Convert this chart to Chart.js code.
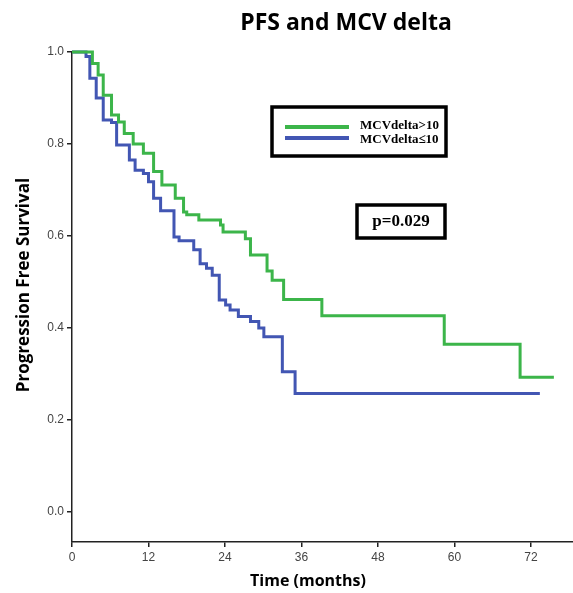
<!DOCTYPE html>
<html lang="en">
<head>
    <meta charset="UTF-8">
    <title>PFS and MCV delta</title>
    <script src="https://cdn.jsdelivr.net/npm/chart.js"></script>
    <style>
        html, body { margin: 0; padding: 0; background: #fff; }
        .chart-container { position: relative; width: 573px; height: 593px; }
    </style>
</head>
<body>
    <div class="chart-container">
        <canvas id="kmChart"></canvas>
    </div>

    <script>
        // Kaplan-Meier steps (time in months, survival after the drop)
        const highTimes = [0, 3.2, 4.1, 4.9, 6.2, 7.3, 8.2, 9.6, 11.2, 12.8, 14.1, 16.2, 17.5, 18.0, 19.9, 23.3, 23.7, 27.2, 28.0, 30.6, 31.4, 33.2, 39.2, 58.4, 70.3, 75.6];
        const highSurv  = [1.0, 0.975, 0.95, 0.906, 0.863, 0.848, 0.823, 0.80, 0.78, 0.74, 0.711, 0.682, 0.652, 0.646, 0.635, 0.624, 0.609, 0.594, 0.559, 0.524, 0.504, 0.462, 0.427, 0.365, 0.293, 0.293];

        const lowTimes = [0, 2.2, 2.8, 3.8, 4.9, 6.2, 7.0, 9.0, 9.9, 11.2, 12.0, 12.8, 13.9, 16.0, 16.8, 19.1, 20.1, 21.1, 22.0, 23.1, 24.1, 24.8, 26.1, 28.0, 29.3, 30.1, 33.0, 35.0, 73.4];
        const lowSurv  = [1.0, 0.99, 0.943, 0.90, 0.852, 0.847, 0.798, 0.765, 0.743, 0.736, 0.718, 0.682, 0.655, 0.598, 0.59, 0.57, 0.54, 0.53, 0.515, 0.461, 0.45, 0.439, 0.425, 0.414, 0.40, 0.381, 0.305, 0.258, 0.258];

        const groupLabels = ["MCVdelta>10", "MCVdelta\u226410"];
        const xTicks = [0, 12, 24, 36, 48, 60, 72];
        const yTicks = [0.0, 0.2, 0.4, 0.6, 0.8, 1.0];
        const pText = "p=0.029";

        const GREEN = "#3cb54a";
        const BLUE = "#4256b3";

        function toPoints(times, surv) {
            return times.map((t, i) => ({ x: t, y: surv[i] }));
        }

        // Draws title, axis titles, legend box and p-value box
        const overlay = {
            id: "overlay",
            afterDraw(chart) {
                const ctx = chart.ctx;
                ctx.save();
                ctx.fillStyle = "#000";
                ctx.textAlign = "center";
                ctx.textBaseline = "middle";

                // main title
                ctx.font = "bold 23px 'Open Sans', sans-serif";
                ctx.fillText("PFS and MCV delta", 346, 23);

                // x axis title
                ctx.font = "bold 16px 'Open Sans', sans-serif";
                ctx.fillText("Time (months)", 308, 581);

                // y axis title
                ctx.save();
                ctx.translate(24, 285);
                ctx.rotate(-Math.PI / 2);
                ctx.font = "bold 17px 'Open Sans', sans-serif";
                ctx.fillText("Progression Free Survival", 0, 0);
                ctx.restore();

                // legend box
                ctx.lineWidth = 3.5;
                ctx.strokeStyle = "#000";
                ctx.strokeRect(272, 107, 174, 49);
                ctx.lineWidth = 4;
                ctx.strokeStyle = GREEN;
                ctx.beginPath(); ctx.moveTo(285, 127); ctx.lineTo(349, 127); ctx.stroke();
                ctx.strokeStyle = BLUE;
                ctx.beginPath(); ctx.moveTo(285, 138); ctx.lineTo(349, 138); ctx.stroke();
                ctx.font = "bold 13px 'Liberation Serif', serif";
                ctx.textAlign = "left";
                ctx.fillText(groupLabels[0], 360, 126);
                ctx.fillText(groupLabels[1], 360, 140);

                // p-value box
                ctx.lineWidth = 3.5;
                ctx.strokeStyle = "#000";
                ctx.strokeRect(357, 205, 88, 33);
                ctx.font = "bold 17px 'Liberation Serif', serif";
                ctx.textAlign = "center";
                ctx.fillText(pText, 401, 222);
                ctx.restore();
            }
        };

        new Chart(document.getElementById("kmChart"), {
            type: "line",
            data: {
                datasets: [
                    {
                        label: groupLabels[0],
                        data: toPoints(highTimes, highSurv),
                        borderColor: GREEN,
                        borderWidth: 3,
                        stepped: "before",
                        pointRadius: 0,
                        fill: false,
                        clip: false
                    },
                    {
                        label: groupLabels[1],
                        data: toPoints(lowTimes, lowSurv),
                        borderColor: BLUE,
                        borderWidth: 3,
                        stepped: "before",
                        pointRadius: 0,
                        fill: false,
                        clip: false
                    }
                ]
            },
            options: {
                responsive: true,
                maintainAspectRatio: false,
                animation: false,
                layout: { padding: { top: 52, right: 0, left: 0, bottom: 0 } },
                plugins: {
                    legend: { display: false },
                    title: { display: false },
                    tooltip: { enabled: false }
                },
                scales: {
                    x: {
                        type: "linear",
                        min: 0,
                        max: 78.6,
                        afterFit(scale) { scale.height = 51; },
                        afterBuildTicks(scale) { scale.ticks = xTicks.map(v => ({ value: v })); },
                        grid: { drawOnChartArea: false, tickLength: 5, color: "#222", lineWidth: 1.5 },
                        border: { display: true, color: "#222", width: 1.5 },
                        ticks: {
                            color: "#444",
                            padding: 3,
                            maxRotation: 0,
                            font: { family: "'Liberation Sans', Arial, sans-serif", size: 12 }
                        }
                    },
                    y: {
                        type: "linear",
                        min: -0.065,
                        max: 1.0,
                        afterFit(scale) { scale.width = 72; },
                        afterBuildTicks(scale) { scale.ticks = yTicks.map(v => ({ value: v })); },
                        grid: { drawOnChartArea: false, tickLength: 5, color: "#222", lineWidth: 1.5 },
                        border: { display: true, color: "#222", width: 1.5 },
                        ticks: {
                            color: "#444",
                            padding: 3,
                            font: { family: "'Liberation Sans', Arial, sans-serif", size: 12 },
                            callback: v => v.toFixed(1)
                        }
                    }
                }
            },
            plugins: [overlay]
        });
    </script>
</body>
</html>
